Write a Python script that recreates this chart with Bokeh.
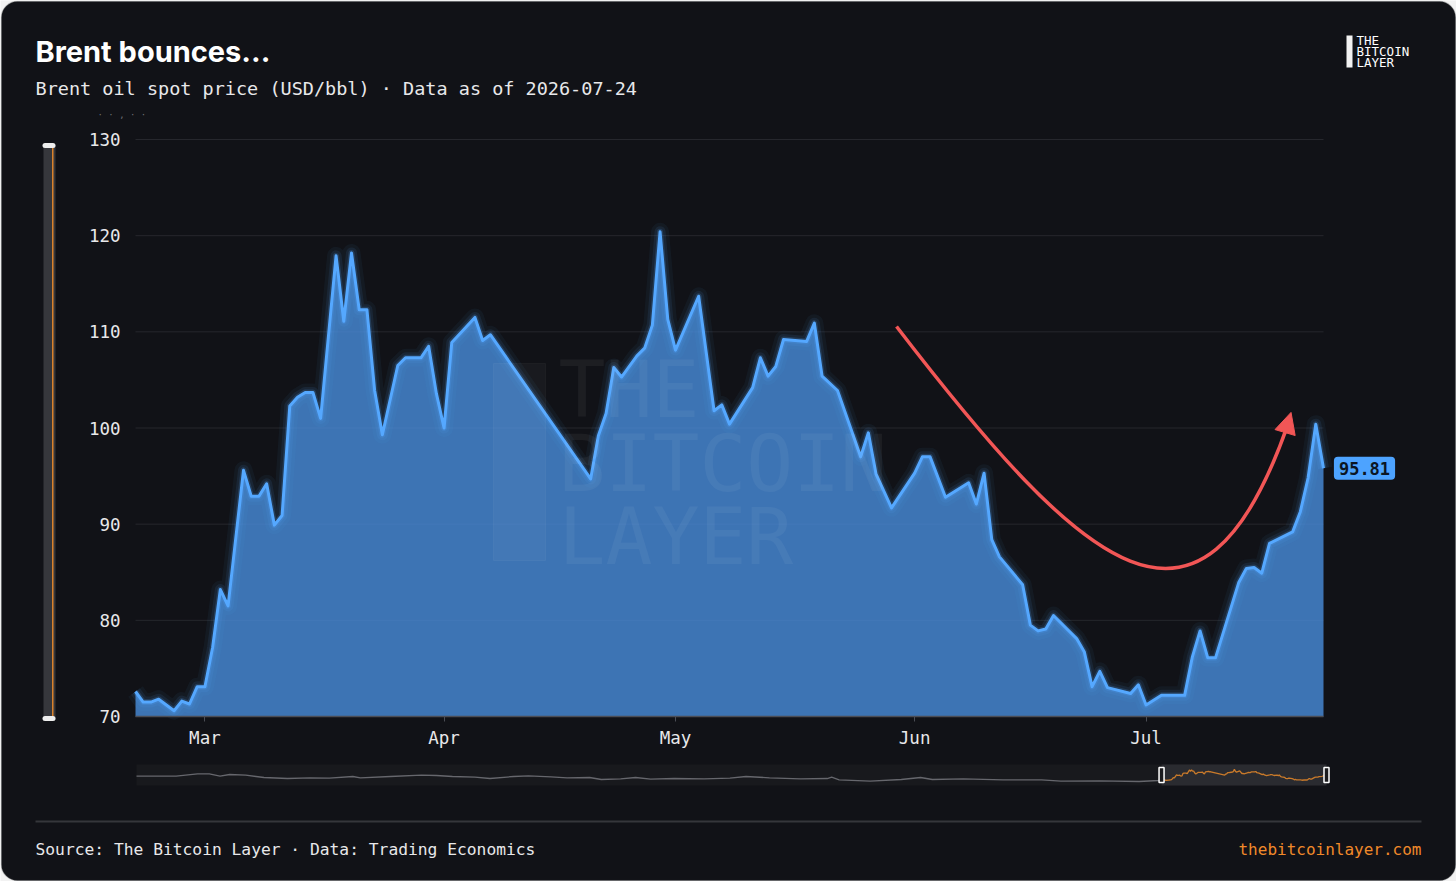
import pandas as pd
from bokeh.plotting import figure
from bokeh.models import (Range1d, Label, BoxAnnotation, Arrow, NormalHead,
                          DatetimeTickFormatter, MonthsTicker, FixedTicker,
                          LinearAxis, DatetimeAxis)
from bokeh.embed import file_html
from bokeh.resources import INLINE

# ---------------- data ----------------
series_start = "2026-02-20"
day_offsets = [0, 1, 2, 3, 4, 5, 6, 7, 8, 9, 10, 11, 12, 14, 15, 16, 17, 18, 19, 20,
               21, 22, 23, 24, 26, 27, 28, 29, 30, 31, 32, 34, 35, 36, 37, 38, 39, 40, 41, 44,
               45, 46, 59, 60, 61, 62, 63, 65, 66, 67, 68, 69, 70, 73, 75, 76, 77, 80, 81, 82,
               83, 84, 87, 88, 89, 91, 94, 95, 96, 98, 101, 102, 103, 105, 108, 109, 110, 111, 112, 115,
               116, 117, 118, 119, 122, 123, 124, 125, 126, 129, 130, 131, 133, 136, 137, 138, 139, 140, 143, 144,
               145, 146, 147, 150, 151, 152, 153, 154]
brent_usd = [72.6, 71.5, 71.5, 71.8, 71.2, 70.6, 71.6, 71.3, 73.1, 73.1, 77.2, 83.2, 81.5, 95.6, 92.9, 92.9, 94.2, 89.9, 90.9, 102.3,
             103.2, 103.7, 103.7, 101.0, 117.9, 111.1, 118.2, 112.3, 112.3, 103.9, 99.3, 106.5, 107.3, 107.3, 107.3, 108.5, 103.6, 100.0, 108.9, 111.5,
             109.1, 109.7, 94.7, 99.2, 101.5, 106.3, 105.3, 107.5, 108.3, 110.7, 120.4, 111.3, 108.1, 113.7, 101.8, 102.4, 100.4, 104.2, 107.3, 105.4,
             106.4, 109.2, 109.0, 110.9, 105.4, 103.9, 97.0, 99.5, 95.2, 91.7, 95.3, 97.0, 97.0, 92.8, 94.3, 92.1, 95.3, 88.4, 86.6, 83.7,
             79.5, 78.9, 79.1, 80.5, 78.1, 76.7, 73.1, 74.7, 73.0, 72.4, 73.3, 71.2, 72.2, 72.2, 76.2, 78.9, 76.1, 76.1, 83.9, 85.4,
             85.5, 84.9, 88.0, 89.2, 91.3, 94.8, 100.4, 95.81]

nav_start = "2023-07-09"
nav_days = [0, 37, 57, 68, 78, 87, 102, 119, 141, 162, 180, 202, 209, 237, 266, 280, 295, 316, 330, 352,
            366, 387, 402, 423, 434, 452, 466, 480, 502, 530, 554, 569, 591, 620, 645, 649, 656, 685, 714, 732,
            743, 772, 809, 845, 863, 899, 936, 954, 957]
nav_values = [89.5, 89.5, 100.5, 100.5, 89.5, 97.3, 94.0, 83.6, 79.0, 82.3, 80.5, 88.2, 82.3, 88.2, 94.0, 92.7, 88.2, 85.0, 79.0, 88.2,
              91.4, 86.8, 82.3, 83.6, 74.5, 77.7, 83.6, 75.9, 79.0, 77.7, 80.5, 88.2, 82.3, 77.7, 79.0, 85.0, 73.2, 66.8, 74.5, 83.6,
              74.5, 77.7, 73.2, 73.2, 66.8, 68.6, 65.5, 70.0, 72.6]

y_ticks = [70, 80, 90, 100, 110, 120, 130]

# annotation arrow (bezier control points, in days from series start / USD)
arrow_days = [98.65, 123.15, 138.06, 149.34]
arrow_vals = [110.56, 84.99, 74.49, 100.27]
arrow_head_days = [148.95, 149.79]
arrow_head_vals = [99.33, 101.62]

title_text = "Brent bounces..."
subtitle_text = "Brent oil spot price (USD/bbl) · Data as of 2026-07-24"
source_text = "Source: The Bitcoin Layer · Data: Trading Economics"
site_text = "thebitcoinlayer.com"
logo_lines = ["THE", "BITCOIN", "LAYER"]

# ---------------- helpers ----------------
W, H = 1456, 881
t0 = pd.Timestamp(series_start)
n0 = pd.Timestamp(nav_start)


def ms(day, base=t0):
    return (base + pd.Timedelta(days=day)).value / 1e6


x_ms = [ms(d) for d in day_offsets]
nav_ms = [ms(d, n0) for d in nav_days]
end_ms = x_ms[-1]

# plot area placement (pixels on the canvas)
PL, PR, PT, PB = 135, 1323, 139, 716          # 130 at PT, 70 at PB
mpp = (end_ms - x_ms[0]) / (PR - PL)
upp = (max(y_ticks) - min(y_ticks)) / (PB - PT)
x_lo, x_hi = x_ms[0] - PL * mpp, end_ms + (W - PR) * mpp
y_lo, y_hi = min(y_ticks) - (H - PB) * upp, max(y_ticks) + PT * upp

# navigator placement
NL, NR = 136, 1326
nmpp = (end_ms - nav_ms[0]) / (NR - NL)
NY0, NPX = 780, 0.22        # pixel row of value 70, pixels per USD
nx_lo, nx_hi = nav_ms[0] - NL * nmpp, end_ms + (W - NR) * nmpp
ny_lo, ny_hi = 70 - (H - NY0) / NPX, 70 + NY0 / NPX

OUTSIDE = "#f2f2f2"
CARD = "#111217"
TXT = "#e8e8ea"
MONO = "DejaVu Sans Mono"
BLUE = "#55a8ff"
RED = "#f25656"
ORANGE = "#f0892a"
GRID = "#26272d"


def sy(y):  # canvas row (from top) -> screen units (from bottom)
    return H - y


p = figure(width=W, height=H, title=None,
           x_range=Range1d(x_lo, x_hi), y_range=Range1d(y_lo, y_hi),
           x_axis_location=None, y_axis_location=None, min_border=0,
           output_backend="svg", toolbar_location=None,
           background_fill_color=OUTSIDE, border_fill_color=OUTSIDE, outline_line_color=None)
p.extra_x_ranges = {"nx": Range1d(nx_lo, nx_hi)}
p.extra_y_ranges = {"ny": Range1d(ny_lo, ny_hi)}
p.grid.grid_line_color = None


def box(l, r, t, b, **kw):
    return BoxAnnotation(left=l, right=r, top=sy(t), bottom=sy(b),
                         left_units="screen", right_units="screen",
                         top_units="screen", bottom_units="screen", **kw)


# card
p.add_layout(box(1, W - 1, 1, H - 1, fill_color=CARD, fill_alpha=1, line_color="#2c2d33",
                 line_width=1.5, border_radius=16, level="underlay"))

# axes (library axes pinned at the plot area's edges)
yaxis = LinearAxis(fixed_location=x_ms[0], ticker=FixedTicker(ticks=y_ticks),
                   bounds=(min(y_ticks), max(y_ticks)))
yaxis.axis_line_color = None
yaxis.major_tick_line_color = None
yaxis.minor_tick_line_color = None
yaxis.major_label_standoff = 9
yaxis.major_label_text_font = MONO
yaxis.major_label_text_font_size = "17.5px"
yaxis.major_label_text_color = TXT
p.add_layout(yaxis, "left")

xaxis = DatetimeAxis(fixed_location=min(y_ticks), ticker=MonthsTicker(months=list(range(12))),
                     formatter=DatetimeTickFormatter(months="%b", days="%b"),
                     bounds=(x_ms[0], end_ms))
xaxis.axis_line_color = "#4b4d55"
xaxis.axis_line_width = 1.5
xaxis.major_tick_line_color = "#4b4d55"
xaxis.major_tick_in = 0
xaxis.major_tick_out = 5
xaxis.minor_tick_line_color = None
xaxis.major_label_standoff = 6
xaxis.major_label_text_font = MONO
xaxis.major_label_text_font_size = "17.5px"
xaxis.major_label_text_color = TXT
p.add_layout(xaxis, "below")

# horizontal grid lines across the plot area
p.segment(x0=x_ms[0], x1=end_ms, y0=y_ticks, y1=y_ticks, line_color=GRID, line_width=1)

# area + glowing line
p.varea(x=x_ms, y1=min(y_ticks), y2=brent_usd, fill_color="#4a8fe0", fill_alpha=0.78)
p.line(x_ms, brent_usd, line_color=BLUE, line_width=18, line_alpha=0.05, line_join="round")
p.line(x_ms, brent_usd, line_color=BLUE, line_width=11, line_alpha=0.09, line_join="round")
p.line(x_ms, brent_usd, line_color=BLUE, line_width=6, line_alpha=0.18, line_join="round")
p.line(x_ms, brent_usd, line_color=BLUE, line_width=3, line_join="round")

# red bounce arrow
p.bezier(x0=[ms(arrow_days[0])], y0=[arrow_vals[0]],
         x1=[ms(arrow_days[3])], y1=[arrow_vals[3]],
         cx0=[ms(arrow_days[1])], cy0=[arrow_vals[1]],
         cx1=[ms(arrow_days[2])], cy1=[arrow_vals[2]],
         line_color=RED, line_width=3.5)
p.add_layout(Arrow(end=NormalHead(size=21, fill_color=RED, line_color=RED, line_width=1),
                   x_start=ms(arrow_head_days[0]), y_start=arrow_head_vals[0],
                   x_end=ms(arrow_head_days[1]), y_end=arrow_head_vals[1],
                   line_color=RED, line_width=3))

# watermark
p.add_layout(box(493, 545, 363, 560, fill_color="white", fill_alpha=0.035,
                 line_color="white", line_alpha=0.04))
for txt, yy in zip(logo_lines, [389, 463, 536]):
    p.add_layout(Label(x=558, y=sy(yy), x_units="screen", y_units="screen", text=txt,
                       text_font=MONO, text_font_size="78px", text_color="white",
                       text_alpha=0.05, text_baseline="middle"))

# last value tag
p.add_layout(Label(x=1364, x_units="screen", y=brent_usd[-1], y_units="data",
                   text=f"{brent_usd[-1]:.2f}", text_align="center", text_baseline="middle",
                   text_font=MONO, text_font_size="17px", text_font_style="bold",
                   text_color="#0b1623", background_fill_color="#4da3ff",
                   border_radius=4, padding=5))

# title & subtitle
p.add_layout(Label(x=35, y=sy(51), x_units="screen", y_units="screen", text=title_text,
                   text_font="Inter", text_font_style="bold", text_font_size="29px",
                   text_color="white", text_baseline="middle"))
p.add_layout(Label(x=35, y=sy(88), x_units="screen", y_units="screen", text=subtitle_text,
                   text_font=MONO, text_font_size="18.5px", text_color=TXT,
                   text_baseline="middle"))
p.add_layout(Label(x=97, y=sy(114), x_units="screen", y_units="screen", text="· · , · ·",
                   text_font=MONO, text_font_size="9px", text_color="#6f7076",
                   text_baseline="middle"))

# logo
p.add_layout(box(1346, 1352, 35, 67, fill_color="#f2f2f2", fill_alpha=1, line_color=None))
for txt, yy in zip(logo_lines, [39.5, 50.5, 61.5]):
    p.add_layout(Label(x=1356, y=sy(yy), x_units="screen", y_units="screen", text=txt,
                       text_font=MONO, text_font_size="12.5px", text_color="white",
                       text_baseline="middle"))

# left range slider
p.add_layout(box(43, 55, 145, 719, fill_color="#36373c", fill_alpha=1, line_color=None))
p.add_layout(box(51.5, 53, 145, 719, fill_color="#d9822b", fill_alpha=1, line_color=None))
for yc in [145, 718]:
    p.add_layout(box(42, 55, yc - 2.5, yc + 2.5, fill_color="#eeeeee", fill_alpha=1,
                     line_color=None, border_radius=3))

# navigator
p.add_layout(BoxAnnotation(left=nav_ms[0], right=end_ms, x_range_name="nx",
                           top=sy(764), bottom=sy(785), top_units="screen", bottom_units="screen",
                           fill_color="#18191d", fill_alpha=1, line_color=None, level="underlay"))
p.add_layout(BoxAnnotation(left=x_ms[0], right=end_ms, x_range_name="nx",
                           top=sy(764), bottom=sy(785), top_units="screen", bottom_units="screen",
                           fill_color="#2a2b30", fill_alpha=1, line_color=None, level="underlay"))
p.line(nav_ms, nav_values, x_range_name="nx", y_range_name="ny",
       line_color="#66676d", line_width=1.3)
p.line(x_ms, brent_usd, x_range_name="nx", y_range_name="ny",
       line_color="#c97a2a", line_width=1.3)
p.rect(x=[x_ms[0], end_ms], y=[95, 95], width=5, height=15,
       width_units="screen", height_units="screen", x_range_name="nx", y_range_name="ny",
       fill_color="#1b1b1e", line_color="white", line_width=1.5)

# footer
p.add_layout(box(35, 1421, 820, 822, fill_color="#35363b", fill_alpha=1, line_color=None))
p.add_layout(Label(x=35, y=sy(849), x_units="screen", y_units="screen", text=source_text,
                   text_font=MONO, text_font_size="16.3px", text_color=TXT,
                   text_baseline="middle"))
p.add_layout(Label(x=1421, y=sy(849), x_units="screen", y_units="screen", text=site_text,
                   text_font=MONO, text_font_size="16px", text_color=ORANGE,
                   text_baseline="middle", text_align="right"))

open("out.html", "w").write(file_html(p, INLINE))
